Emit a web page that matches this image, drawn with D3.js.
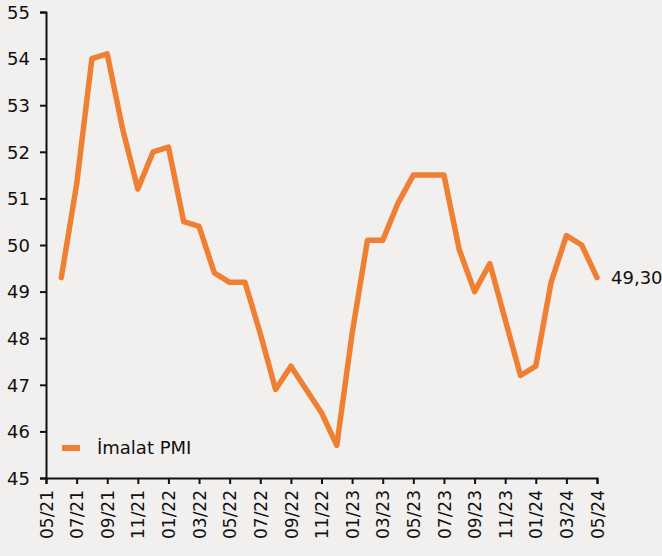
<!DOCTYPE html>
<html>
<head>
<meta charset="utf-8">
<script src="https://cdn.jsdelivr.net/npm/d3@7"></script>
<style>
  body { margin: 0; background: #f2f0ef; }
  text { font-family: "DejaVu Sans", sans-serif; fill: #111; }
</style>
</head>
<body>
<div id="chart"></div>
<script>
const orange = "#ef7f32";

// month labels on the axis, 05/21 .. 05/24
const months = ["05/21","06/21","07/21","08/21","09/21","10/21","11/21","12/21",
  "01/22","02/22","03/22","04/22","05/22","06/22","07/22","08/22","09/22","10/22","11/22","12/22",
  "01/23","02/23","03/23","04/23","05/23","06/23","07/23","08/23","09/23","10/23","11/23","12/23",
  "01/24","02/24","03/24","04/24","05/24"];

// values are plotted from the second month on
const pmi = [49.3, 51.3, 54.0, 54.1, 52.5, 51.2, 52.0, 52.1,
  50.5, 50.4, 49.4, 49.2, 49.2, 48.1, 46.9, 47.4, 46.9, 46.4, 45.7, 48.1,
  50.1, 50.1, 50.9, 51.5, 51.5, 51.5, 49.9, 49.0, 49.6, 48.4, 47.2, 47.4,
  49.2, 50.2, 50.0, 49.3];

const yTicks = [45, 46, 47, 48, 49, 50, 51, 52, 53, 54, 55];
const seriesName = "İmalat PMI";
const lastLabel = "49,30";

const width = 662, height = 556;
const svg = d3.select("#chart").append("svg")
    .attr("width", width)
    .attr("height", height)
    .style("background-color", "#f2f0ef");

const x = d3.scalePoint().domain(months).range([46, 597]);
const y = d3.scaleLinear().domain([45, 55]).range([478, 12]);

const points = pmi.map((v, i) => ({ m: months[i + 1], v: v }));

// y axis
const yAxis = svg.append("g")
    .attr("transform", "translate(46,0)")
    .call(d3.axisLeft(y).tickValues(yTicks).tickSize(6).tickPadding(10));
yAxis.selectAll("text").style("font-size", "18px").attr("dy", "0.35em");

// x axis
const xAxis = svg.append("g")
    .attr("transform", "translate(0,478)")
    .call(d3.axisBottom(x).tickValues(months.filter((d, i) => i % 2 === 0)).tickSize(6));
xAxis.selectAll("text")
    .style("font-size", "17px")
    .attr("text-anchor", "end")
    .attr("transform", "rotate(-90)")
    .attr("x", -12)
    .attr("y", 0)
    .attr("dy", "0.36em");

svg.selectAll(".domain, .tick line").attr("stroke", "#111").attr("stroke-width", 2);

// line
const line = d3.line().x(d => x(d.m)).y(d => y(d.v));
svg.append("path")
    .datum(points)
    .attr("fill", "none")
    .attr("stroke", orange)
    .attr("stroke-width", 5.5)
    .attr("stroke-linejoin", "round")
    .attr("stroke-linecap", "round")
    .attr("d", line);

// end value label
const last = points[points.length - 1];
svg.append("text")
    .attr("x", x(last.m) + 14)
    .attr("y", y(last.v))
    .attr("dy", "0.35em")
    .style("font-size", "18px")
    .text(lastLabel);

// legend
svg.append("line")
    .attr("x1", 62).attr("x2", 80)
    .attr("y1", 448).attr("y2", 448)
    .attr("stroke", orange)
    .attr("stroke-width", 6);
svg.append("text")
    .attr("x", 97)
    .attr("y", 448)
    .attr("dy", "0.35em")
    .style("font-size", "18px")
    .text(seriesName);
</script>
</body>
</html>
